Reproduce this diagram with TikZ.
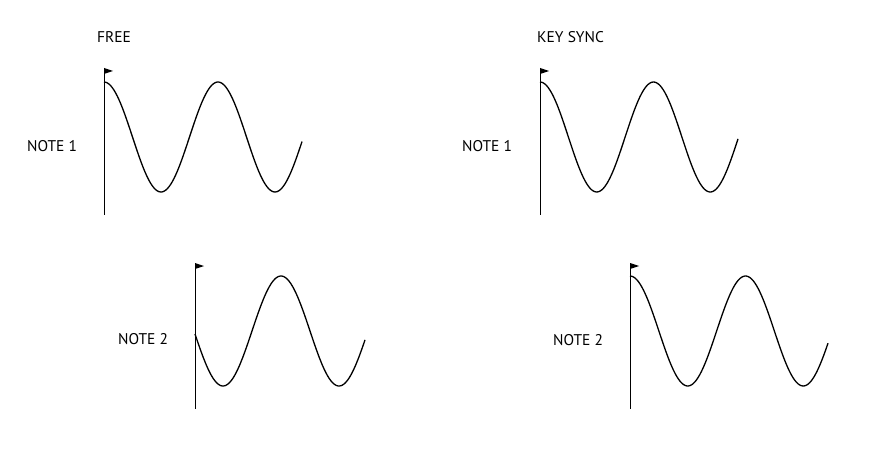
\documentclass[tikz,border=0pt]{standalone}
\usepackage{fontspec}
\setmainfont{PT Sans}
\begin{document}
\begin{tikzpicture}[x=1pt,y=-1pt]
	\tikzstyle{lbl} = [anchor=west, inner sep=0pt, font=\fontsize{15.5}{18}\selectfont]
	\tikzstyle{axis} = [draw, line width=1pt]
	\tikzstyle{wave} = [draw, line width=1.3pt, smooth, samples=120]
	\tikzstyle{flag} = [fill=black, draw=none]
	\useasboundingbox (0,0) rectangle (877,457);
	% titles
	\node[lbl] (free) at (97,37) {FREE};
	\node[lbl] (keysync) at (537,37) {KEY SYNC};
	% free running
	\node[lbl] (free-n1) at (27,146) {NOTE 1};
	\draw[axis] (104,68) -- (104,215);
	\fill[flag] (104,68) -- (113,71) -- (104,74) -- cycle;
	\draw[wave] plot[domain=104:302] (\x, {137-55*cos((\x-104)/114*360)});
	\node[lbl] (free-n2) at (118,339) {NOTE 2};
	\draw[axis] (195,263) -- (195,409);
	\fill[flag] (195,263) -- (204,266) -- (195,269) -- cycle;
	\draw[wave] plot[domain=195:365] (\x, {331-55*cos((\x-281)/116*360)});
	% key sync
	\node[lbl] (sync-n1) at (462,146) {NOTE 1};
	\draw[axis] (540,68) -- (540,215);
	\fill[flag] (540,68) -- (549,71) -- (540,74) -- cycle;
	\draw[wave] plot[domain=540:738] (\x, {137-55*cos((\x-540)/113.5*360)});
	\node[lbl] (sync-n2) at (553,340) {NOTE 2};
	\draw[axis] (630,263) -- (630,409);
	\fill[flag] (630,263) -- (639,266) -- (630,269) -- cycle;
	\draw[wave] plot[domain=630:828] (\x, {331-55*cos((\x-630)/115.5*360)});
\end{tikzpicture}
\end{document}
